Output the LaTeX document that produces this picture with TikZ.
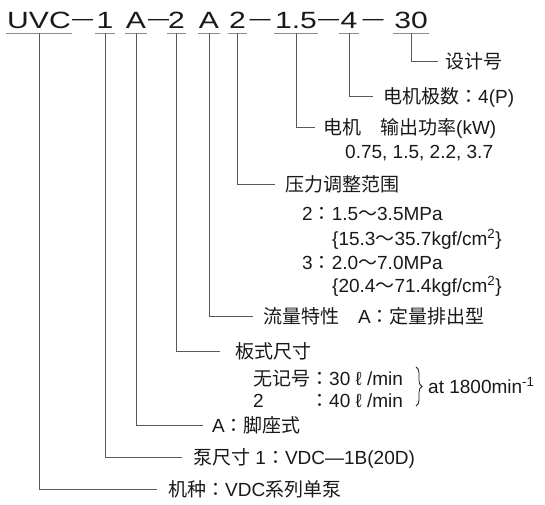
\documentclass[tikz,border=0pt]{standalone}
\usepackage{fontspec}
\setmainfont{Liberation Sans}
\newfontfamily\cjk{Noto Sans CJK JP}
\newfontfamily\codefont[FakeStretch=1.28]{Liberation Sans}
\usetikzlibrary{decorations.pathreplacing}

\tikzset{
  code/.style={font=\codefont\fontsize{23.5}{26}\selectfont, text=black!90,
    inner sep=0pt, anchor=base, text height=17pt, text depth=5pt},
  codedash/.style={font=\fontsize{21}{24}\selectfont, text=black!90, inner sep=0pt, anchor=base},
  codeline/.style={draw=black!45, line width=1pt, shorten <=-1pt, shorten >=-1pt},
  leader/.style={draw=black!65, line width=1pt},
  desc/.style={font=\fontsize{19}{23}\selectfont, text=black!90, inner sep=0pt,
    anchor=west, text height=15.5pt, text depth=1.5pt},
}

\begin{document}
\begin{tikzpicture}[x=1pt, y=-1pt]
    \useasboundingbox (0,0) rectangle (545,504);

    % Model code
    \node[code] (series)   at (39,28)    {UVC};
    \node[codedash] (d1)   at (82.5,25)  {—};
    \node[code] (pumpsize) at (105,28)   {1};
    \node[code] (mount)    at (136,28)   {A};
    \node[codedash] (d2)   at (158.5,25) {—};
    \node[code] (plate)    at (176.5,28) {2};
    \node[code] (flowtype) at (209,28)   {A};
    \node[code] (pressure) at (237.5,28) {2};
    \node[codedash] (d3)   at (260,25)   {—};
    \node[code] (motor)    at (296,28)   {1.5};
    \node[codedash] (d4)   at (328.5,25) {—};
    \node[code] (poles)    at (349,28)   {4};
    \node[codedash] (d5)   at (373,25)   {—};
    \node[code] (design)   at (411,28)   {30};

    % Underlines
    \foreach \k in {series,pumpsize,mount,plate,flowtype,pressure,motor,poles,design}
        \draw[codeline] (\k.south west) -- (\k.south east);

    % Descriptions
    \node[desc] (design-txt) at (445,61) {\cjk 设计号};
    \node[desc] (poles-txt) at (383,96) {{\cjk 电机极数：}4(P)};
    \node[desc] (motor-txt) at (323,127) {{\cjk 电机　输出功率}(kW)};
    \node[desc] (motor-val) at (345,151) {0.75, 1.5, 2.2, 3.7};

    \node[desc] (pressure-txt) at (285,184) {\cjk 压力调整范围};
    \node[desc] (pressure-a) at (302,213) {2{\cjk ：}1.5{\cjk 〜}3.5MPa};
    \node[desc] (pressure-b) at (332,238) {\{15.3{\cjk 〜}35.7kgf/cm\textsuperscript{2}\}};
    \node[desc] (pressure-c) at (302,262) {3{\cjk ：}2.0{\cjk 〜}7.0MPa};
    \node[desc] (pressure-d) at (332,285) {\{20.4{\cjk 〜}71.4kgf/cm\textsuperscript{2}\}};

    \node[desc] (flowtype-txt) at (263,316) {{\cjk 流量特性　}A{\cjk ：定量排出型}};

    \node[desc] (plate-txt) at (235,351) {\cjk 板式尺寸};
    \node[desc] (plate-a) at (253,378) {{\cjk 无记号：}30 ℓ /min};
    \node[desc] (plate-b) at (253,400) {\makebox[57pt][l]{2}{\cjk ：}40 ℓ /min};
    \draw[black!90, line width=0.8pt, decorate, decoration={brace, amplitude=6pt}]
        (416,367) -- (416,406);
    \node[desc] (plate-rpm) at (428,386) {at 1800min\textsuperscript{-1}};

    \node[desc] (mount-txt) at (212,425) {A{\cjk ：脚座式}};
    \node[desc] (pumpsize-txt) at (193,457) {{\cjk 泵尺寸} 1{\cjk ：}VDC—1B(20D)};
    \node[desc] (series-txt) at (168,489) {{\cjk 机种：}VDC{\cjk 系列单泵}};

    % Leaders
    \foreach \k/\gap in {design/7,poles/10,motor/8,pressure/10,flowtype/10,
                         plate/15,mount/9,pumpsize/11,series/11}
        \draw[leader, shorten >=\gap pt] (\k.south) |- (\k-txt.west);
\end{tikzpicture}
\end{document}
